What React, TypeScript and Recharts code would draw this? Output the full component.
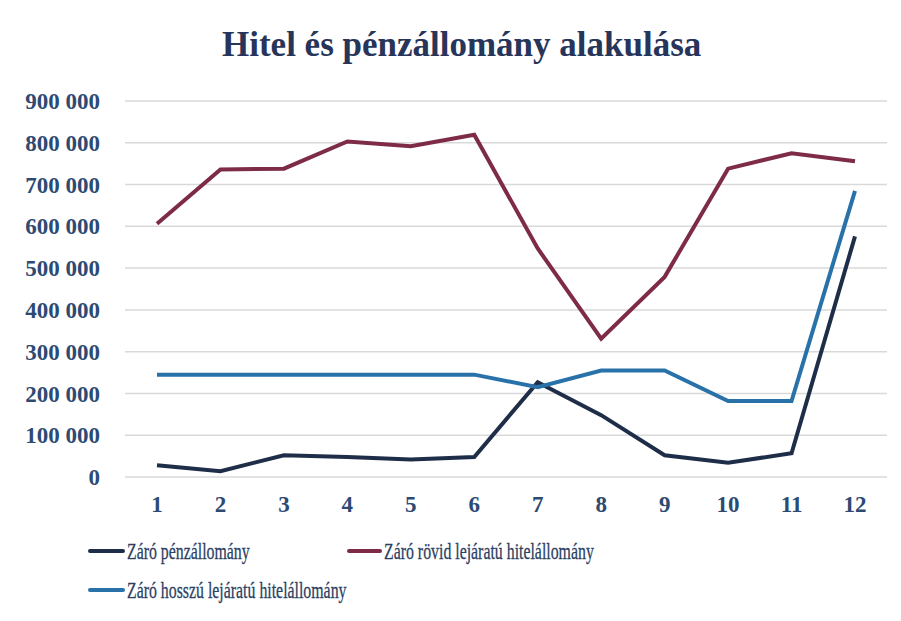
import React from 'react';
import { LineChart, Line, XAxis, YAxis, CartesianGrid } from 'recharts';

const categories = ['1', '2', '3', '4', '5', '6', '7', '8', '9', '10', '11', '12'];
const zaroPenz = [28000, 14000, 52000, 48000, 42000, 48000, 227000, 148000, 52000, 34000, 57000, 576000];
const zaroRovid = [606000, 736000, 738000, 803000, 792000, 819000, 547000, 331000, 479000, 738000, 775000, 756000];
const zaroHosszu = [245000, 245000, 245000, 245000, 245000, 245000, 215000, 255000, 255000, 182000, 182000, 685000];
const yTicks = [0, 100000, 200000, 300000, 400000, 500000, 600000, 700000, 800000, 900000];

const seriesNames = ['Záró pénzállomány', 'Záró rövid lejáratú hitelállomány', 'Záró hosszú lejáratú hitelállomány'];
const seriesColors = ['#1f2e48', '#7d2b48', '#2872a9'];

const data = categories.map((c, i) => ({
  cat: c,
  penz: zaroPenz[i],
  rovid: zaroRovid[i],
  hosszu: zaroHosszu[i],
}));

const fmt = (v: number) => String(v).replace(/\B(?=(\d{3})+(?!\d))/g, ' ');

const serif = '"Liberation Serif", "Times New Roman", serif';

function LegendItem({ name, color, left, top, lineW }: { name: string; color: string; left: number; top: number; lineW: number }) {
  return (
    <div style={{ position: 'absolute', left, top, height: 26, display: 'flex', alignItems: 'center' }}>
      <div style={{ width: lineW, height: 4, background: color, borderRadius: 2 }} />
      <span
        style={{
          display: 'inline-block',
          fontFamily: serif,
          fontSize: 24,
          color: '#2b3f63',
          transform: 'scaleX(0.66)',
          transformOrigin: 'left center',
          whiteSpace: 'nowrap',
          marginLeft: 2,
          WebkitTextStroke: '0.3px #2b3f63',
        }}
      >
        {name}
      </span>
    </div>
  );
}

export default function App() {
  return (
    <div style={{ position: 'absolute', left: 0, top: 0, width: 901, height: 621, background: '#fff', overflow: 'hidden' }}>
      <div
        style={{
          position: 'absolute',
          left: 222,
          top: 25,
          fontFamily: serif,
          fontWeight: 'bold',
          fontSize: 35,
          color: '#28355a',
          whiteSpace: 'nowrap',
          lineHeight: '40px',
        }}
      >
        Hitel és pénzállomány alakulása
      </div>
      <LineChart width={901} height={621} data={data} margin={{ top: 101, right: 14, bottom: 104, left: 0 }}>
        <CartesianGrid vertical={false} stroke="#d9d9d9" strokeWidth={1.5} />
        <XAxis
          dataKey="cat"
          axisLine={false}
          tickLine={false}
          tickMargin={13}
          height={40}
          padding={{ left: 32, right: 32 }}
          tick={{ fontFamily: serif, fontWeight: 'bold', fontSize: 23, fill: '#2d4a73' }}
        />
        <YAxis
          domain={[0, 900000]}
          ticks={yTicks}
          width={125}
          axisLine={false}
          tickLine={false}
          tickMargin={19}
          tickFormatter={fmt}
          interval={0}
          tick={{ fontFamily: serif, fontWeight: 'bold', fontSize: 23, fill: '#2d4a73' }}
        />
        <Line type="linear" dataKey="penz" name={seriesNames[0]} stroke={seriesColors[0]} strokeWidth={4} dot={false} isAnimationActive={false} />
        <Line type="linear" dataKey="rovid" name={seriesNames[1]} stroke={seriesColors[1]} strokeWidth={4} dot={false} isAnimationActive={false} />
        <Line type="linear" dataKey="hosszu" name={seriesNames[2]} stroke={seriesColors[2]} strokeWidth={4} dot={false} isAnimationActive={false} />
      </LineChart>
      <LegendItem name={seriesNames[0]} color={seriesColors[0]} left={88} top={538} lineW={37} />
      <LegendItem name={seriesNames[1]} color={seriesColors[1]} left={347} top={538} lineW={35} />
      <LegendItem name={seriesNames[2]} color={seriesColors[2]} left={88} top={577} lineW={37} />
    </div>
  );
}
